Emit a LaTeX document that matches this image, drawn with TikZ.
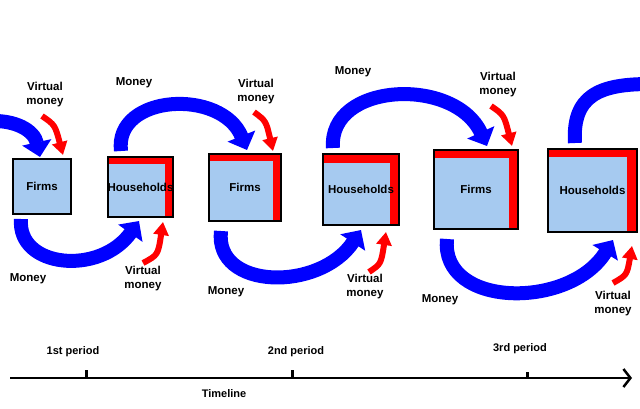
\documentclass[tikz,border=0pt]{standalone}
\usepackage{fontspec}
\setmainfont{Liberation Sans}
\usetikzlibrary{arrows.meta}
\definecolor{boxblue}{RGB}{166,202,240}
\definecolor{flowblue}{RGB}{0,0,255}
\definecolor{flowred}{RGB}{255,0,0}
\tikzset{
  sector/.style={draw=black, line width=2pt, fill=boxblue, inner sep=0pt,
    font=\bfseries\fontsize{11.5}{13}\selectfont},
  redcorner/.style 2 args={path picture={
    \fill[flowred] (path picture bounding box.north west) rectangle ([yshift=-#1]path picture bounding box.north east);
    \fill[flowred] (path picture bounding box.north east) rectangle ([xshift=-#2]path picture bounding box.south east);}},
  lbl/.style={font=\bfseries\fontsize{11.5}{14}\selectfont, align=center, inner sep=0pt},
  tlbl/.style={font=\bfseries\fontsize{11}{12}\selectfont, inner sep=0pt},
  flow/.style={draw=flowblue, line width=14pt, -{Triangle[length=15pt,width=29pt]}},
  flowopen/.style={draw=flowblue, line width=14pt},
  vflow/.style={draw=flowred, line width=6pt, -{Triangle[length=13pt,width=15pt]}},
}
\begin{document}
\begin{tikzpicture}[x=1pt,y=-1pt]
\useasboundingbox (0,0) rectangle (640,408);
\clip (0,0) rectangle (640,408);
\fill[white] (0,0) rectangle (640,408);

% boxes
\node[sector, minimum width=58pt, minimum height=55pt] (f1) at (42,186.5) {Firms};
\node[sector, redcorner={7pt}{8pt}, minimum width=65pt, minimum height=60pt] (h1) at (140.5,187) {Households};
\node[sector, redcorner={7pt}{8pt}, minimum width=72pt, minimum height=67pt] (f2) at (245,187.5) {Firms};
\node[sector, redcorner={9pt}{9pt}, minimum width=76pt, minimum height=71pt] (h2) at (361,189.5) {Households};
\node[sector, redcorner={8pt}{9pt}, minimum width=84pt, minimum height=79pt] (f3) at (476,189.5) {Firms};
\node[sector, redcorner={8pt}{10pt}, minimum width=89pt, minimum height=83pt] (h3) at (592.5,190.5) {Households};

% coordinates of flows
\coordinate (b0s) at (-10,121);
\coordinate (b0e) at (40,157);
\coordinate (b1s) at (21,219);
\coordinate (b1e) at (139,221);
\coordinate (b2s) at (121,151);
\coordinate (b2e) at (247,150);
\coordinate (b3s) at (221,231);
\coordinate (b3e) at (361,230);
\coordinate (b4s) at (333,148);
\coordinate (b4e) at (487,146);
\coordinate (b5s) at (447,239);
\coordinate (b5e) at (613,240);
\coordinate (b6s) at (575,143);
\coordinate (b6e) at (650,84);

% blue money flows
\draw[flow] (b0s) .. controls (15,120) and (34,130) .. (b0e);
\draw[flow] (b1s) .. controls (17,268) and (100,276) .. (b1e);
\draw[flow] (b2s) .. controls (114,94) and (222,88) .. (b2e);
\draw[flow] (b3s) .. controls (214,290) and (320,292) .. (b3e);
\draw[flow] (b4s) .. controls (328,82) and (455,76) .. (b4e);
\draw[flow] (b5s) .. controls (440,308) and (570,310) .. (b5e);
\draw[flowopen] (b6s) .. controls (572,95) and (600,84) .. (b6e);

% red virtual money flows
\coordinate (r1s) at (42,116);
\coordinate (r1e) at (63,155);
\coordinate (r2s) at (143,263);
\coordinate (r2e) at (163,222);
\coordinate (r3s) at (254,112);
\coordinate (r3e) at (273,151);
\coordinate (r4s) at (369,272);
\coordinate (r4e) at (386,232);
\coordinate (r5s) at (491,106);
\coordinate (r5e) at (512,146);
\coordinate (r6s) at (613,283);
\coordinate (r6e) at (632,246);
\draw[vflow] (r1s) .. controls (55,125) .. (r1e);
\draw[vflow] (r2s) .. controls (158,255) .. (r2e);
\draw[vflow] (r3s) .. controls (266,121) .. (r3e);
\draw[vflow] (r4s) .. controls (381,264) .. (r4e);
\draw[vflow] (r5s) .. controls (504,115) .. (r5e);
\draw[vflow] (r6s) .. controls (627,275) .. (r6e);

% labels
\node[lbl] (l1) at (45,95) {Virtual\\money};
\node[lbl] (l2) at (134,83) {Money};
\node[lbl] (l3) at (28,279) {Money};
\node[lbl] (l4) at (143,279) {Virtual\\money};
\node[lbl] (l5) at (256,92) {Virtual\\money};
\node[lbl] (l6) at (353,72) {Money};
\node[lbl] (l7) at (226,292) {Money};
\node[lbl] (l8) at (365,287) {Virtual\\money};
\node[lbl] (l9) at (498,85) {Virtual\\money};
\node[lbl] (l10) at (440,300) {Money};
\node[lbl] (l11) at (613,304) {Virtual\\money};

% timeline
\coordinate (t0) at (10,378);
\coordinate (t1) at (632,378);
\draw[line width=2.5pt, -{Straight Barb[length=7pt,width=18pt]}] (t0) -- (t1);
\coordinate (k1) at (86,370);
\coordinate (k2) at (292,370);
\coordinate (k3) at (527,372);
\draw[line width=3pt] (k1) -- (86,378);
\draw[line width=3pt] (k2) -- (292,378);
\draw[line width=3pt] (k3) -- (527,378);
\node[tlbl] (p1) at (73,352) {1st period};
\node[tlbl] (p2) at (296,352) {2nd period};
\node[tlbl] (p3) at (520,349) {3rd period};
\node[tlbl] (tl) at (224,394) {Timeline};
\end{tikzpicture}
\end{document}
